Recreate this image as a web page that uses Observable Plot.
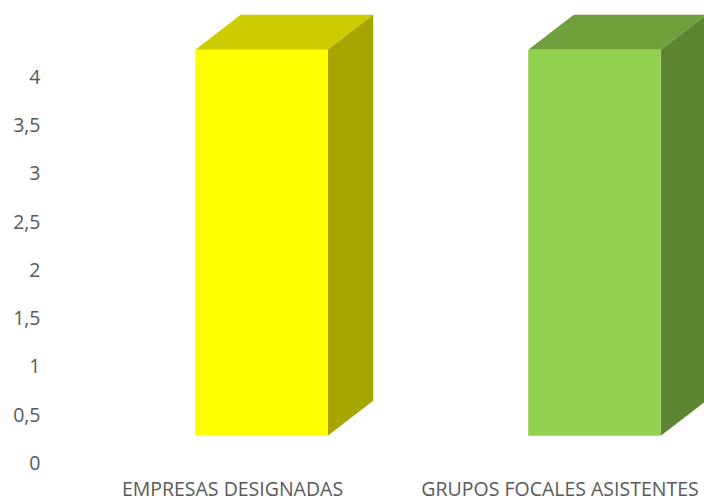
<!DOCTYPE html>
<html>
<head>
<meta charset="utf-8">
<script src="https://cdn.jsdelivr.net/npm/d3@7"></script>
<script src="https://cdn.jsdelivr.net/npm/@observablehq/plot@0.6"></script>
<style>
  html, body { margin: 0; padding: 0; background: #ffffff; }
</style>
</head>
<body>
<div id="chart"></div>
<script>
// ---- data ----
const categories = ["EMPRESAS DESIGNADAS", "GRUPOS FOCALES ASISTENTES"];
const values = [4, 4];
const yTicks = [0, 0.5, 1, 1.5, 2, 2.5, 3, 3.5, 4];

// ---- styles ----
const frontColors = ["#FFFF00", "#92D050"];
const topColors = ["#CCCC00", "#70A03C"];
const sideColors = ["#A6A600", "#5E8532"];

const data = categories.map((category, i) => ({category, value: values[i], i}));

const inset = 100.25;   // front face inset inside band
const lift = -27.3;     // front face raised above floor
const depthX = 45.5, depthY = -35;

const fmt = d => String(d).replace(".", ",");

function faces(index, scales) {
  const g = d3.create("svg:g");
  const bw = scales.x.bandwidth();
  for (const i of index) {
    const d = data[i];
    const x0 = scales.x(d.category) + inset;
    const x1 = scales.x(d.category) + bw - inset;
    const yb = scales.y(0) + lift;
    const yt = scales.y(d.value) + lift;
    g.append("polygon")
      .attr("points", [[x0, yt], [x0 + depthX, yt + depthY], [x1 + depthX, yt + depthY], [x1, yt]].join(" "))
      .attr("fill", topColors[d.i]);
    g.append("polygon")
      .attr("points", [[x1, yt], [x1 + depthX, yt + depthY], [x1 + depthX, yb + depthY], [x1, yb]].join(" "))
      .attr("fill", sideColors[d.i]);
  }
  return g.node();
}

const chart = Plot.plot({
  width: 704,
  height: 503,
  marginLeft: 43,
  marginRight: 0,
  marginTop: 0,
  marginBottom: 40,
  style: {fontFamily: "'Open Sans', sans-serif", fontSize: "20px", color: "#595959", background: "#ffffff"},
  x: {type: "band", domain: categories, range: [94.75, 761.75], padding: 0, label: null},
  y: {domain: [0, 4.8], label: null},
  marks: [
    Plot.axisY(yTicks, {tickSize: 0, tickPadding: 3, tickFormat: fmt, label: null, fontSize: 19.5}),
    Plot.axisX([categories[0]], {tickSize: 0, tickPadding: 19, dx: -29.5, label: null, fontSize: 19.5}),
    Plot.axisX([categories[1]], {tickSize: 0, tickPadding: 19, dx: -35, label: null, fontSize: 19.5}),
    Plot.rectY(data, {x: "category", y: "value", render: faces}),
    Plot.rectY(data, {x: "category", y: "value", fill: d => frontColors[d.i], insetLeft: inset, insetRight: inset, dy: lift})
  ]
});
document.getElementById("chart").appendChild(chart);
</script>
</body>
</html>
